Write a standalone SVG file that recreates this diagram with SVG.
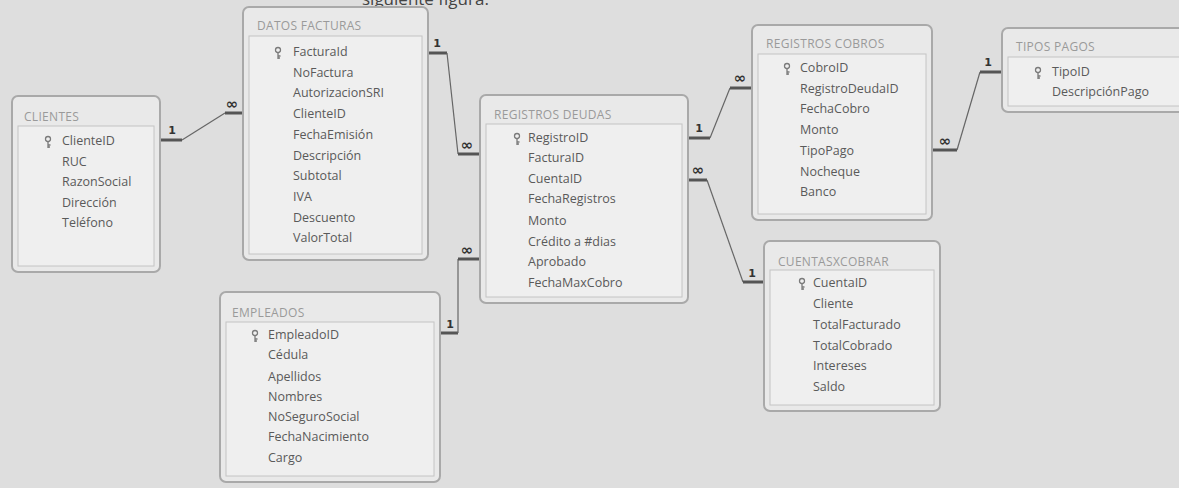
<svg xmlns="http://www.w3.org/2000/svg" width="1179" height="488" viewBox="0 0 1179 488">
<defs>
<style>
.bg{fill:#dedede}
.tbl{fill:#e9e9e9;stroke:#a9a9a9;stroke-width:2}
.inner{fill:#efefef;stroke:#c4c4c4;stroke-width:1}
.title{font-family:"Open Sans","Liberation Sans",sans-serif;font-size:12px;fill:#9a9a9a;letter-spacing:0.3px}
.fld{font-family:"Open Sans","Liberation Sans",sans-serif;font-size:12.5px;fill:#5a5a5a}
.thick{stroke:#555;stroke-width:3;fill:none}
.thin{stroke:#666;stroke-width:1.2;fill:none}
.card{font-family:"DejaVu Sans","Liberation Sans",sans-serif;font-size:11px;font-weight:bold;fill:#333;text-anchor:middle}
.inf{font-family:"DejaVu Sans","Liberation Sans",sans-serif;font-size:15px;font-weight:bold;fill:#333;text-anchor:middle}
.key{fill:none;stroke:#7a7a7a;stroke-width:1.3}
</style>
<g id="keyicon">
<circle class="key" cx="0" cy="-3" r="2.5"/>
<path class="key" d="M0,-0.5 L0,6 M0,3 L2.5,3 M0,5 L2,5"/>
</g>
</defs>
<rect class="bg" x="0" y="0" width="1179" height="488"/>
<text x="362" y="5" font-family="Open Sans, Liberation Sans, sans-serif" font-size="17" fill="#444">siguiente figura:</text>

<g id="connectors">
<polyline class="thick" points="160,140 182,140"/>
<polyline class="thin" points="182,140 225,113"/>
<polyline class="thick" points="225,113 243,113"/>
<text class="card" x="172" y="134">1</text>
<text class="inf" x="232" y="109">∞</text>

<polyline class="thick" points="428,53 447,53"/>
<polyline class="thin" points="447,53 458,154"/>
<polyline class="thick" points="458,154 480,154"/>
<text class="card" x="437" y="47">1</text>
<text class="inf" x="467" y="150">∞</text>

<polyline class="thick" points="440,333 458,333"/>
<polyline class="thin" points="458,333 458,259"/>
<polyline class="thick" points="458,259 480,259"/>
<text class="card" x="450" y="328">1</text>
<text class="inf" x="467" y="255">∞</text>

<polyline class="thick" points="688,138 710,138"/>
<polyline class="thin" points="710,138 730,88"/>
<polyline class="thick" points="730,88 752,88"/>
<text class="card" x="699" y="132">1</text>
<text class="inf" x="740" y="83">∞</text>

<polyline class="thick" points="688,180 707,180"/>
<polyline class="thin" points="707,180 743,282"/>
<polyline class="thick" points="743,282 764,282"/>
<text class="inf" x="698" y="175">∞</text>
<text class="card" x="752" y="277">1</text>

<polyline class="thick" points="932,150 957,150"/>
<polyline class="thin" points="957,150 980,72"/>
<polyline class="thick" points="980,72 1002,72"/>
<text class="inf" x="945" y="146">∞</text>
<text class="card" x="988" y="66">1</text>
</g>

<g id="clientes">
<rect class="tbl" x="12" y="96" width="148" height="176" rx="6"/>
<rect class="inner" x="18" y="126" width="136" height="140"/>
<text class="title" x="24" y="121">CLIENTES</text>
<use href="#keyicon" x="48" y="142"/>
<text class="fld" x="62" y="145">ClienteID</text>
<text class="fld" x="62" y="166">RUC</text>
<text class="fld" x="62" y="186">RazonSocial</text>
<text class="fld" x="62" y="207">Dirección</text>
<text class="fld" x="62" y="227">Teléfono</text>
</g>

<g id="datos_facturas">
<rect class="tbl" x="243" y="7" width="185" height="253" rx="6"/>
<rect class="inner" x="249" y="36" width="173" height="218"/>
<text class="title" x="257" y="30">DATOS FACTURAS</text>
<use href="#keyicon" x="278" y="53"/>
<text class="fld" x="293" y="56">FacturaId</text>
<text class="fld" x="293" y="77">NoFactura</text>
<text class="fld" x="293" y="97">AutorizacionSRI</text>
<text class="fld" x="293" y="118">ClienteID</text>
<text class="fld" x="293" y="139">FechaEmisión</text>
<text class="fld" x="293" y="160">Descripción</text>
<text class="fld" x="293" y="180">Subtotal</text>
<text class="fld" x="293" y="201">IVA</text>
<text class="fld" x="293" y="222">Descuento</text>
<text class="fld" x="293" y="242">ValorTotal</text>
</g>

<g id="registros_deudas">
<rect class="tbl" x="480" y="95" width="208" height="208" rx="6"/>
<rect class="inner" x="486" y="124" width="196" height="173"/>
<text class="title" x="494" y="119">REGISTROS DEUDAS</text>
<use href="#keyicon" x="517" y="139"/>
<text class="fld" x="528" y="142">RegistroID</text>
<text class="fld" x="528" y="162">FacturaID</text>
<text class="fld" x="528" y="183">CuentaID</text>
<text class="fld" x="528" y="203">FechaRegistros</text>
<text class="fld" x="528" y="225">Monto</text>
<text class="fld" x="528" y="246">Crédito a #dias</text>
<text class="fld" x="528" y="266">Aprobado</text>
<text class="fld" x="528" y="287">FechaMaxCobro</text>
</g>

<g id="empleados">
<rect class="tbl" x="220" y="292" width="220" height="190" rx="6"/>
<rect class="inner" x="226" y="322" width="208" height="154"/>
<text class="title" x="232" y="317">EMPLEADOS</text>
<use href="#keyicon" x="255" y="336"/>
<text class="fld" x="268" y="339">EmpleadoID</text>
<text class="fld" x="268" y="359">Cédula</text>
<text class="fld" x="268" y="381">Apellidos</text>
<text class="fld" x="268" y="401">Nombres</text>
<text class="fld" x="268" y="421">NoSeguroSocial</text>
<text class="fld" x="268" y="441">FechaNacimiento</text>
<text class="fld" x="268" y="462">Cargo</text>
</g>

<g id="registros_cobros">
<rect class="tbl" x="752" y="25" width="180" height="195" rx="6"/>
<rect class="inner" x="758" y="54" width="168" height="160"/>
<text class="title" x="766" y="48">REGISTROS COBROS</text>
<use href="#keyicon" x="787" y="69"/>
<text class="fld" x="800" y="72">CobroID</text>
<text class="fld" x="800" y="93">RegistroDeudaID</text>
<text class="fld" x="800" y="113">FechaCobro</text>
<text class="fld" x="800" y="134">Monto</text>
<text class="fld" x="800" y="155">TipoPago</text>
<text class="fld" x="800" y="176">Nocheque</text>
<text class="fld" x="800" y="196">Banco</text>
</g>

<g id="tipos_pagos">
<rect class="tbl" x="1002" y="28" width="190" height="84" rx="6"/>
<rect class="inner" x="1008" y="57" width="178" height="49"/>
<text class="title" x="1016" y="51">TIPOS PAGOS</text>
<use href="#keyicon" x="1038" y="73"/>
<text class="fld" x="1052" y="76">TipoID</text>
<text class="fld" x="1052" y="96">DescripciónPago</text>
</g>

<g id="cuentas_cobrar">
<rect class="tbl" x="764" y="241" width="176" height="170" rx="6"/>
<rect class="inner" x="770" y="270" width="164" height="135"/>
<text class="title" x="778" y="266">CUENTASXCOBRAR</text>
<use href="#keyicon" x="802" y="284"/>
<text class="fld" x="813" y="287">CuentaID</text>
<text class="fld" x="813" y="308">Cliente</text>
<text class="fld" x="813" y="329">TotalFacturado</text>
<text class="fld" x="813" y="350">TotalCobrado</text>
<text class="fld" x="813" y="370">Intereses</text>
<text class="fld" x="813" y="391">Saldo</text>
</g>
</svg>
